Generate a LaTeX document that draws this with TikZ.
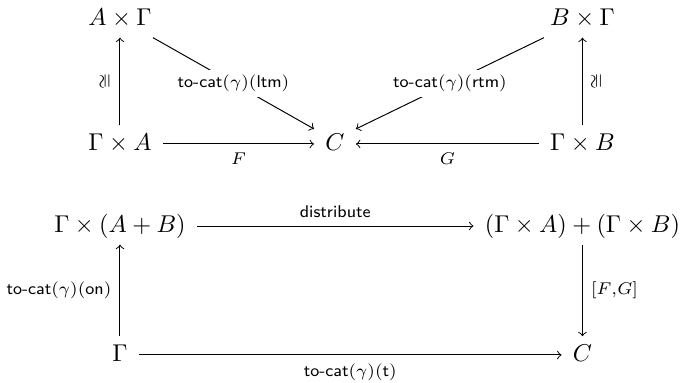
\documentclass[tikz,border=0pt]{standalone}
\usepackage{amsmath,amssymb}
\usetikzlibrary{positioning}

\begin{document}
\begin{tikzpicture}[
  on grid,
  obj/.style={text height=7pt,text depth=2pt,inner xsep=4.5pt,inner ysep=3pt},
  map/.style={->},
  lbl/.style={font=\scriptsize},
  desc/.style={font=\scriptsize,fill=white,inner sep=2pt}
]
\useasboundingbox (0,0) rectangle (9.92,-5.538);
% upper triangle
\node[obj] (gA) at (1.735,-2.082) {$\Gamma\times A$};
\node[obj,above=1.808cm of gA] (aG) {$A\times\Gamma$};
\node[obj,inner ysep=1.5pt,right=3.109cm of gA] (cTop) {$C$};
\node[obj,right=6.688cm of gA] (gB) {$\Gamma\times B$};
\node[obj,above=1.808cm of gB] (bG) {$B\times\Gamma$};
\draw[map] (gA) -- node[lbl,above,sloped] {$\cong$} (aG);
\draw[map] (gB) -- node[lbl,below,sloped] {$\cong$} (bG);
\draw[map] (gA) -- node[lbl,below] {$F$} (cTop);
\draw[map] (gB) -- node[lbl,below] {$G$} (cTop);
\draw[map] (aG) -- node[desc] {\textsf{to-cat}$(\gamma)($\textsf{ltm}$)$} (cTop.north west);
\draw[map] (bG) -- node[desc] {\textsf{to-cat}$(\gamma)($\textsf{rtm}$)$} (cTop.north east);
% lower square
\node[obj,below=1.186cm of gA] (gSum) {$\Gamma\times(A+B)$};
\node[obj,right=6.688cm of gSum] (sums) {$(\Gamma\times A)+(\Gamma\times B)$};
\node[obj,below=1.865cm of gSum] (gam) {$\Gamma$};
\node[obj,right=6.688cm of gam] (cBot) {$C$};
\draw[map] (gSum) -- node[lbl,above] {\textsf{distribute}} (sums);
\draw[map] (gam) -- node[lbl,left] {\textsf{to-cat}$(\gamma)($\textsf{on}$)$} (gSum);
\draw[map] (sums) -- node[lbl,right] {$[F{,}G]$} (cBot);
\draw[map] (gam) -- node[lbl,below] {\textsf{to-cat}$(\gamma)($\textsf{t}$)$} (cBot);
\end{tikzpicture}
\end{document}
